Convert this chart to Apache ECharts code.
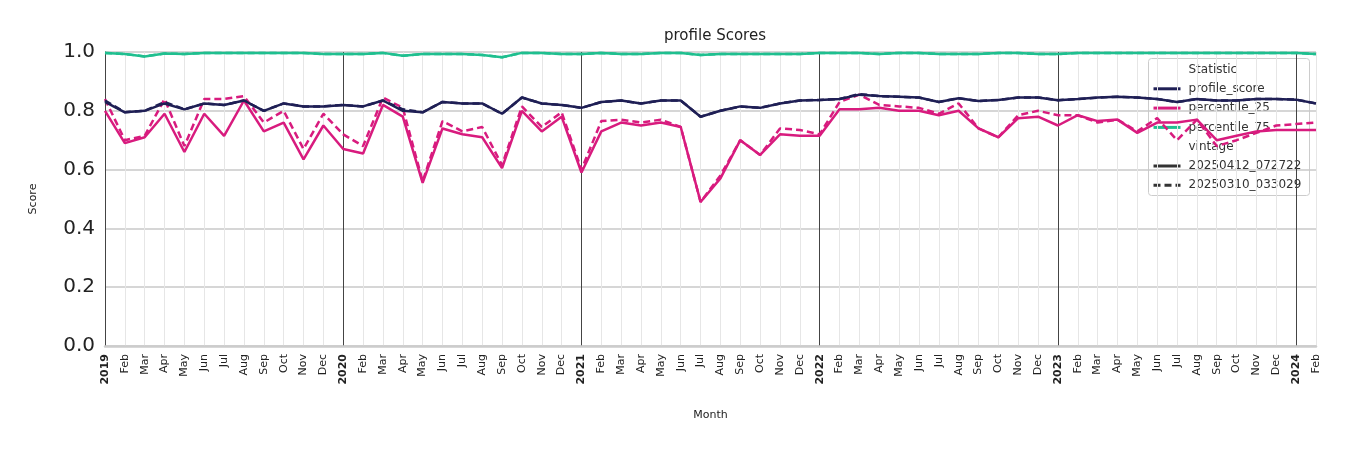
<!DOCTYPE html>
<html>
<head>
<meta charset="utf-8">
<script src="https://cdn.jsdelivr.net/npm/echarts@6/dist/echarts.min.js"></script>
<style>html,body{margin:0;padding:0;background:#fff}#chart{width:1350px;height:450px}</style>
</head>
<body>
<div id="chart"></div>
<script>
var monthNames = ['Jan','Feb','Mar','Apr','May','Jun','Jul','Aug','Sep','Oct','Nov','Dec'];
var years = [2019, 2020, 2021, 2022, 2023, 2024];

var profileNew = [
  .83,.795,.80,.825,.805,.825,.82,.835,.80,.825,.815,.815,
  .82,.815,.835,.80,.795,.83,.825,.825,.79,.845,.825,.82,
  .81,.83,.835,.825,.835,.835,.78,.80,.815,.81,.825,.835,
  .837,.84,.855,.85,.848,.845,.83,.843,.833,.837,.845,.845,
  .836,.84,.845,.848,.845,.84,.83,.84,.835,.835,.84,.84,
  .838,.825
];
var profileOld = [
  .835,.795,.80,.83,.805,.825,.82,.835,.80,.825,.815,.815,
  .82,.815,.835,.805,.795,.83,.825,.825,.79,.845,.825,.82,
  .81,.83,.835,.825,.835,.835,.78,.80,.815,.81,.825,.835,
  .837,.84,.857,.85,.848,.845,.83,.843,.833,.837,.845,.845,
  .836,.84,.845,.848,.845,.84,.83,.84,.835,.835,.84,.84,
  .838,.825
];
var p25New = [
  .80,.69,.71,.79,.66,.79,.715,.835,.73,.76,.635,.75,
  .67,.655,.82,.78,.555,.74,.72,.71,.605,.80,.73,.78,
  .59,.73,.76,.75,.76,.745,.49,.57,.70,.65,.72,.715,
  .715,.805,.805,.81,.80,.80,.785,.80,.74,.71,.775,.78,
  .75,.785,.765,.77,.725,.76,.76,.77,.70,.715,.73,.735,
  .735,.735
];
var p25Old = [
  .84,.70,.715,.84,.68,.84,.84,.85,.76,.80,.67,.79,
  .72,.68,.845,.81,.56,.765,.73,.745,.615,.815,.745,.795,
  .60,.765,.77,.76,.77,.745,.49,.58,.70,.65,.74,.735,
  .72,.83,.855,.82,.815,.81,.79,.825,.74,.71,.785,.80,
  .785,.785,.76,.77,.73,.775,.70,.77,.68,.70,.725,.75,
  .755,.76
];
var p75New = [
  .997,.993,.985,.995,.993,.997,.997,.997,.997,.997,.997,.993,
  .993,.993,.997,.987,.993,.993,.993,.99,.982,.997,.997,.993,
  .993,.997,.993,.993,.997,.997,.99,.993,.993,.993,.993,.993,
  .997,.997,.997,.993,.997,.997,.993,.993,.993,.997,.997,.993,
  .993,.997,.997,.997,.997,.997,.997,.997,.997,.997,.997,.997,
  .997,.993
];
var p75Old = p75New.slice();

var categories = [];
years.forEach(function(y) {
  monthNames.forEach(function(m, k) {
    if (categories.length < 62) categories.push(k === 0 ? String(y) : m);
  });
});

var colors = {profile_score: '#1f1f55', percentile_25: '#d81b7e', percentile_75: '#1fbf8f'};

function line(name, data, dashed) {
  return {
    name: name + (dashed ? ' old' : ''),
    type: 'line',
    data: data,
    symbol: 'none',
    z: dashed ? 3 : 4,
    lineStyle: {color: colors[name], width: 2.5, type: dashed ? [7, 4] : 'solid'}
  };
}

var splitColors = ['#444'];
for (var k = 0; k < 11; k++) splitColors.push('#e6e6e6');

var legendItems = [
  {text: 'Statistic', head: true},
  {text: 'profile_score', color: colors.profile_score},
  {text: 'percentile_25', color: colors.percentile_25},
  {text: 'percentile_75', color: colors.percentile_75},
  {text: 'vintage', head: true},
  {text: '20250412_072722', color: '#333'},
  {text: '20250310_033029', color: '#333', dash: true}
];
var legendChildren = [{
  type: 'rect', shape: {x: 0, y: 0, width: 161, height: 137, r: 3},
  style: {fill: 'rgba(255,255,255,0.8)', stroke: '#ccc', lineWidth: 1}
}];
legendItems.forEach(function(it, i) {
  var y = 11 + i * 19.3;
  if (!it.head) {
    legendChildren.push({
      type: 'line', shape: {x1: 5, y1: y, x2: 32, y2: y},
      style: {stroke: it.color, lineWidth: 3, lineDash: it.dash ? [7, 4] : null}
    });
  }
  legendChildren.push({
    type: 'text', x: 40, y: y,
    style: {text: it.text, fill: '#333', fontSize: 12, fontFamily: 'DejaVu Sans', verticalAlign: 'middle'}
  });
});

var chart = echarts.init(document.getElementById('chart'));
chart.setOption({
  animation: false,
  title: {
    text: 'profile Scores', left: 710, top: 24, textAlign: 'center',
    textStyle: {fontSize: 15, fontWeight: 'normal', color: '#222', fontFamily: 'DejaVu Sans'}
  },
  grid: {left: 105, right: 34, top: 52, bottom: 104},
  xAxis: {
    type: 'category', data: categories, boundaryGap: false,
    name: 'Month', nameLocation: 'middle', nameGap: 64,
    nameTextStyle: {fontSize: 11, color: '#222', fontFamily: 'DejaVu Sans'},
    axisLine: {lineStyle: {color: '#ccc', width: 2.5}},
    axisTick: {show: false},
    axisLabel: {
      interval: 0, rotate: 90, fontSize: 11, color: '#222', fontFamily: 'DejaVu Sans',
      formatter: function(v) { return /^\d{4}$/.test(v) ? '{y|' + v + '}' : v; },
      rich: {y: {fontWeight: 'bold', fontSize: 11, color: '#222'}}
    },
    splitLine: {show: true, interval: 0, lineStyle: {color: splitColors, width: 1}}
  },
  yAxis: {
    type: 'value', min: 0, max: 1, interval: 0.2,
    name: 'Score', nameLocation: 'middle', nameGap: 66, nameRotate: 90,
    nameTextStyle: {fontSize: 11, color: '#222', fontFamily: 'DejaVu Sans'},
    axisLine: {show: true, lineStyle: {color: '#444', width: 1}},
    axisTick: {show: false},
    axisLabel: {fontSize: 20, margin: 10, color: '#222', fontFamily: 'DejaVu Sans', formatter: function(v) { return v.toFixed(1); }},
    splitLine: {lineStyle: {color: '#c8c8c8', width: 1.5}}
  },
  series: [
    line('percentile_75', p75Old, true),
    line('percentile_75', p75New, false),
    line('percentile_25', p25Old, true),
    line('percentile_25', p25New, false),
    line('profile_score', profileOld, true),
    line('profile_score', profileNew, false)
  ],
  graphic: [{type: 'group', left: 1148, top: 58, z: 100, children: legendChildren}]
});
</script>
</body>
</html>
